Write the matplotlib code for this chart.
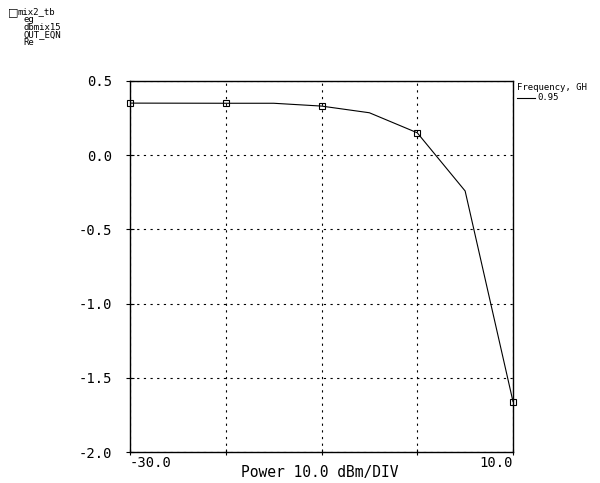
import matplotlib
matplotlib.use("Agg")
import matplotlib.pyplot as plt

# Swept input power (dBm) and real part of OUT_EQN
power_dbm = [-30, -20, -15, -10, -5, 0, 5, 10]
out_re = [0.351, 0.350, 0.350, 0.331, 0.286, 0.151, -0.241, -1.66]
# markers are placed every 10 dBm
marker_power = [-30, -20, -10, 0, 10]
marker_re = [0.351, 0.350, 0.331, 0.151, -1.66]

y_ticks = [0.5, 0.0, -0.5, -1.0, -1.5, -2.0]
x_grid = [-30, -20, -10, 0, 10]
x_tick_labels = {-30: "-30.0", 10: "10.0"}

header_lines = ["mix2_tb", "eg", "dbmix15", "OUT_EQN", "Re"]
legend_title = "Frequency, GH"
legend_value = "0.95"

font = "DejaVu Sans Mono"

fig = plt.figure(figsize=(6.0, 4.83), dpi=100)
ax = fig.add_axes([130 / 600, 1 - 452 / 483, (513 - 130) / 600, (452 - 81) / 483])

ax.plot(power_dbm, out_re, color="black", lw=0.8)
ax.plot(marker_power, marker_re, ls="none", marker="s", ms=5, mfc="none",
        mec="black", mew=0.8, clip_on=False)

ax.set_xlim(-30, 10)
ax.set_ylim(-2.0, 0.5)
ax.set_xticks(x_grid)
ax.set_xticklabels([x_tick_labels.get(v, "") for v in x_grid], family=font, fontsize=10)
ax.set_yticks(y_ticks)
ax.set_yticklabels([f"{v:.1f}" for v in y_ticks], family=font, fontsize=10)
ax.tick_params(axis="y", direction="inout", length=6, width=0.8, color="black", pad=10)
ax.tick_params(axis="x", direction="inout", length=4, width=0.8, color="black", pad=1)
for lbl in ax.get_xticklabels():
    if lbl.get_text() == "-30.0":
        lbl.set_horizontalalignment("left")
    else:
        lbl.set_horizontalalignment("right")

ax.grid(True, color="black", lw=0.8, ls=(0, (2, 4)))
for s in ax.spines.values():
    s.set_color("black")
    s.set_linewidth(1.0)

fig.text(320 / 600, 1 - 473 / 483, "Power 10.0 dBm/DIV", family=font, fontsize=10.5,
         ha="center", va="center")

# header block at top left
fig.text(8 / 600, 1 - 12 / 483, "\u25a1", family="DejaVu Sans", fontsize=8, va="center")
fig.text(17 / 600, 1 - 12 / 483, header_lines[0], family=font, fontsize=6.5, va="center")
for i, t in enumerate(header_lines[1:]):
    fig.text(23 / 600, 1 - (20 + 7.5 * i) / 483, t, family=font, fontsize=6.5, va="center")

# legend at right
fig.text(517 / 600, 1 - 87 / 483, legend_title, family=font, fontsize=6.5, va="center")
fig.lines.append(plt.Line2D([517 / 600, 535 / 600], [1 - 98 / 483, 1 - 98 / 483],
                            color="black", lw=0.8, transform=fig.transFigure))
fig.text(537 / 600, 1 - 97 / 483, legend_value, family=font, fontsize=6.5, va="center")

fig.savefig("out.png", dpi=100)
